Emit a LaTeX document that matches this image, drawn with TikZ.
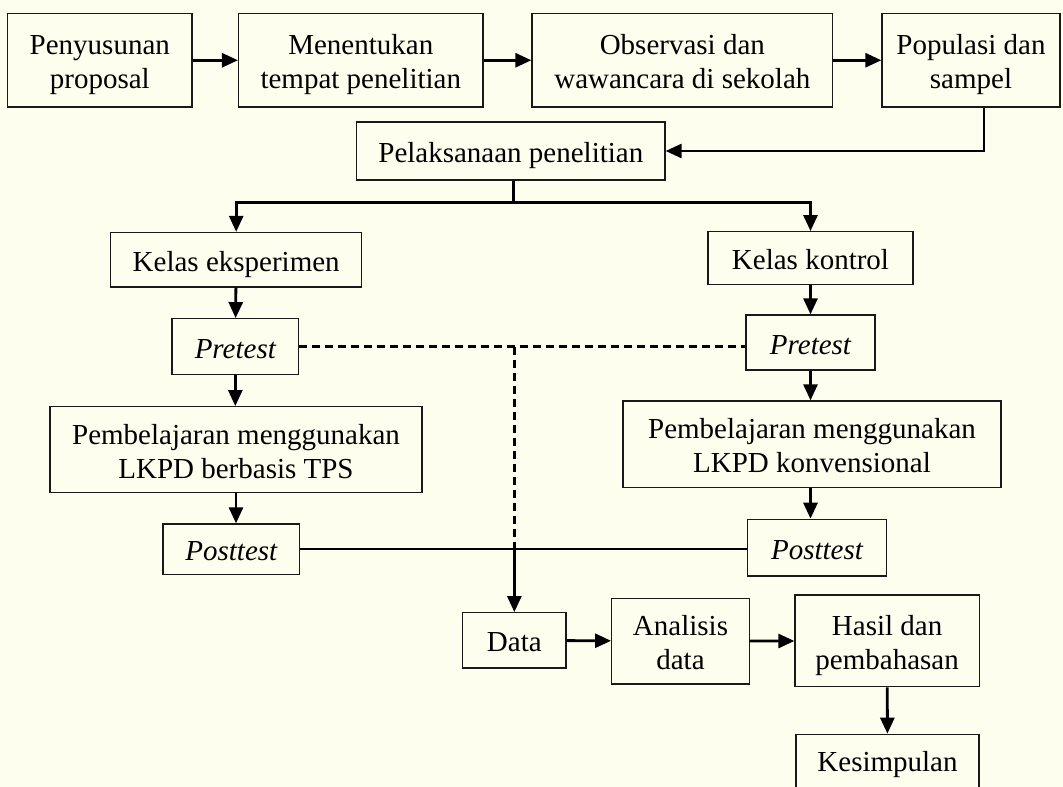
\documentclass[tikz,border=0pt]{standalone}
\usepackage{fontspec}
\setmainfont{Liberation Serif}
\usetikzlibrary{arrows.meta}
\definecolor{cream}{RGB}{254,254,239}
\newcommand\topstr{\rule{0pt}{30pt}}
\newcommand\botstr{\rule[-7pt]{0pt}{7pt}}
\begin{document}
\begin{tikzpicture}[x=1pt,y=-1pt,
  box/.style={draw=black!90, line width=1.3pt, inner sep=0pt, align=center,
    font=\fontsize{29}{34}\selectfont},
  arr/.style={line width=2.8pt, -{Triangle[length=16pt,width=14pt]}},
  plain/.style={line width=2.8pt},
  dashline/.style={line width=3pt, dash pattern=on 8pt off 5pt}]
\useasboundingbox[fill=cream] (0,0) rectangle (1063,787);
\clip (0,0) rectangle (1063,787);
% row 1
\node[box, minimum width=184.4pt, minimum height=93.5pt] (p1) at (99.8,60.25) {\topstr Penyusunan\\proposal\botstr};
\node[box, minimum width=244.4pt, minimum height=93.5pt] (p2) at (360.8,60.25) {\topstr Menentukan\\tempat penelitian\botstr};
\node[box, minimum width=300.7pt, minimum height=93.5pt] (p3) at (682.35,60.25) {\topstr Observasi dan\\wawancara di sekolah\botstr};
\node[box, minimum width=178pt, minimum height=93.5pt] (p4) at (971,60.25) {\topstr Populasi dan\\sampel\botstr};
\node[box, minimum width=308.3pt, minimum height=58pt] (pel) at (510.85,151) {\topstr Pelaksanaan penelitian\botstr};
% columns
\node[box, minimum width=251pt, minimum height=54.5pt] (ke) at (236.2,259.75) {\topstr Kelas eksperimen\botstr};
\node[box, minimum width=205pt, minimum height=52.6pt] (kk) at (810.5,258) {\topstr Kelas kontrol\botstr};
\node[box, minimum width=126.6pt, minimum height=55.6pt] (preL) at (235.3,346.5) {\topstr\itshape Pretest\botstr};
\node[box, minimum width=129pt, minimum height=55pt] (preR) at (810.5,342.5) {\topstr\itshape Pretest\botstr};
\node[box, minimum width=372pt, minimum height=85.6pt] (pbL) at (236,449.5) {\topstr Pembelajaran menggunakan\\LKPD berbasis TPS\botstr};
\node[box, minimum width=378pt, minimum height=86.7pt] (pbR) at (812,444.35) {\topstr Pembelajaran menggunakan\\LKPD konvensional\botstr};
\node[box, minimum width=136.6pt, minimum height=50.3pt] (postL) at (231.3,549.15) {\topstr\itshape Posttest\botstr};
\node[box, minimum width=139.4pt, minimum height=56.7pt] (postR) at (817,547.65) {\topstr\itshape Posttest\botstr};
% bottom
\node[box, minimum width=103.3pt, minimum height=55.3pt] (data) at (514.35,640.35) {\topstr Data\botstr};
\node[box, minimum width=137.6pt, minimum height=85.7pt] (an) at (680.5,641.15) {\topstr Analisis\\data\botstr};
\node[box, minimum width=184.3pt, minimum height=91.7pt] (has) at (887.15,640.85) {\topstr Hasil dan\\pembahasan\botstr};
\node[box, minimum width=183pt, minimum height=65.7pt] (kes) at (887.5,767.15) {\rule[-18pt]{0pt}{45pt}Kesimpulan};
% connectors row 1
\draw[arr] (p1) -- (p2);
\draw[arr] (p2) -- (p3);
\draw[arr] (p3) -- (p4);
\draw[arr] ([xshift=13pt]p4.south) |- (pel.east);
% split
\draw[plain] ([xshift=3pt]pel.south) -- ++(0,21.7) coordinate (sp);
\draw[arr] (sp) -| (ke.north);
\draw[arr] (sp) -| (kk.north);
% left column
\draw[arr] (ke) -- (preL);
\draw[arr] (preL.south) -- (preL.south |- pbL.north);
\draw[arr] (pbL.south) -- (pbL.south |- postL.north);
% right column
\draw[arr] (kk) -- (preR);
\draw[arr] (preR.south) -- (preR.south |- pbR.north);
\draw[arr] (preR.south |- pbR.south) -- (preR.south |- postR.north);
% links to data
\draw[dashline] (preL.east) -- (preL.east -| preR.west);
\coordinate (dtop) at (preL.east -| data.north);
\coordinate (dmid) at (postL.east -| data.north);
\draw[dashline] (dtop) -- (dmid);
\draw[plain, line width=2.2pt] (postL.east) -- (postL.east -| postR.west);
\draw[arr] (dmid) -- (data.north);
% bottom row
\draw[arr] (data) -- (an);
\draw[arr] (an) -- (has);
\draw[arr] (has) -- (kes);
\end{tikzpicture}
\end{document}
